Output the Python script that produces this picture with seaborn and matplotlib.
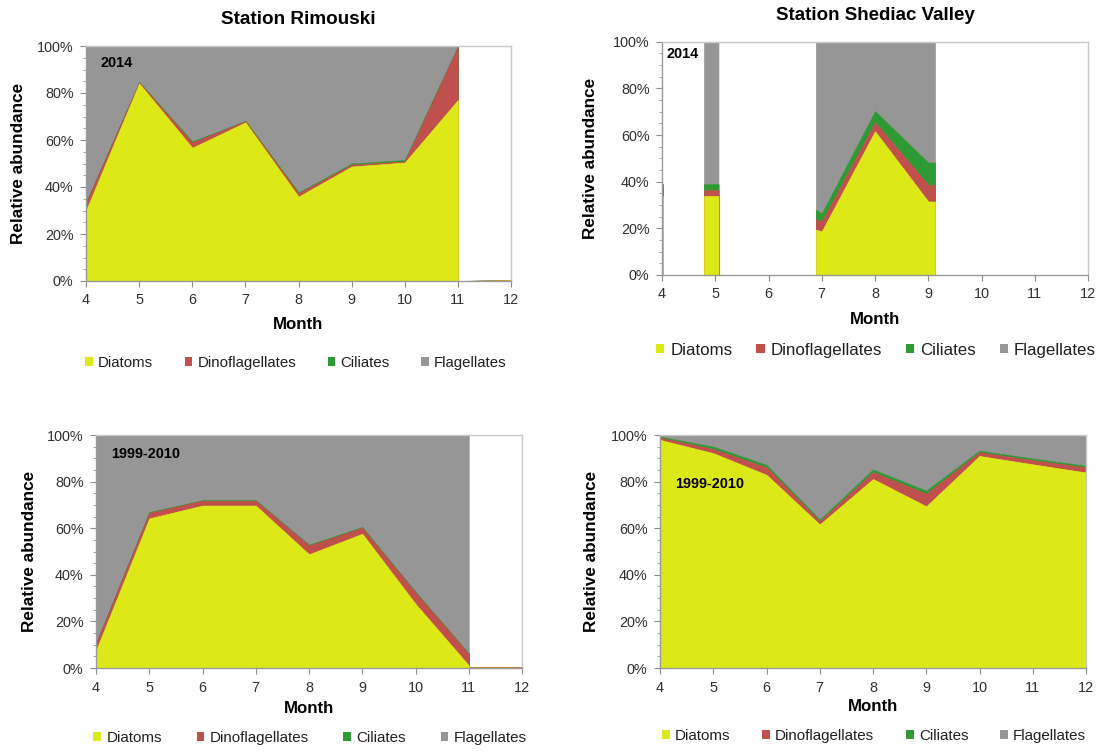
import numpy as np
import matplotlib
matplotlib.use("Agg")
import matplotlib.pyplot as plt
from matplotlib.patches import Patch
from matplotlib.ticker import FuncFormatter, MultipleLocator
import seaborn as sns

# ---- data: relative abundance (%) by month ----
groups = ["Diatoms", "Dinoflagellates", "Ciliates", "Flagellates"]
group_colors = ["#DDE817", "#C0504D", "#2E9A33", "#969696"]

# Station Rimouski, 2014
rim14_month = [4, 5, 6, 7, 8, 9, 10, 11, 11, 12]
rim14_diatoms = [30.0, 84.1, 56.7, 67.5, 35.9, 48.7, 50.4, 77.0, 0.0, 0.3]
rim14_dino = [3.3, 0.4, 2.3, 0.5, 1.4, 0.8, 0.5, 22.7, 0.0, 0.0]
rim14_cil = [0.1, 0.1, 0.4, 0.1, 0.4, 0.5, 0.6, 0.1, 0.0, 0.0]
rim14_flag = [66.6, 15.4, 40.6, 31.9, 62.3, 50.0, 48.5, 0.2, 0.0, 0.0]

# Station Shediac Valley, 2014 (sampling dates as decimal months)
she14_month = [4.0, 4.015, 4.015, 4.79, 4.79, 5.06, 5.06, 6.89, 6.89, 7.0, 8.0, 9.0, 9.125, 9.125, 11.0]
she14_diatoms = [33.8, 33.8, 0, 0, 33.8, 33.8, 0, 0, 19.4, 18.7, 61.6, 31.5, 31.5, 0, 0]
she14_dino = [2.5, 2.5, 0, 0, 2.5, 2.5, 0, 0, 4.6, 4.3, 3.9, 7.1, 7.1, 0, 0]
she14_cil = [2.6, 2.6, 0, 0, 2.6, 2.6, 0, 0, 3.9, 3.4, 4.7, 9.6, 9.6, 0, 0]
she14_flag = [0, 0, 0, 0, 61.1, 61.1, 0, 0, 72.1, 73.6, 29.8, 51.8, 51.8, 0, 0]

# Station Rimouski, 1999-2010 climatology
rimc_month = [4, 5, 6, 7, 8, 9, 10, 11, 11, 12]
rimc_diatoms = [7.5, 64.2, 69.7, 69.7, 48.8, 57.6, 27.5, 1.1, 0.2, 0.2]
rimc_dino = [3.0, 2.4, 2.1, 2.1, 3.8, 2.6, 4.9, 4.9, 0.1, 0.3]
rimc_cil = [0.2, 0.3, 0.2, 0.2, 0.3, 0.3, 0.3, 0.2, 0.0, 0.0]
rimc_flag = [89.3, 33.1, 28.0, 28.0, 47.1, 39.5, 67.3, 93.8, 0.0, 0.0]

# Station Shediac Valley, 1999-2010 climatology
shec_month = [4, 5, 6, 7, 8, 9, 10, 11, 12]
shec_diatoms = [97.9, 92.2, 82.9, 61.6, 81.1, 69.4, 91.0, 87.4, 83.9]
shec_dino = [1.0, 1.8, 3.2, 1.4, 3.0, 5.4, 1.6, 1.8, 2.2]
shec_cil = [0.4, 1.0, 1.1, 0.7, 1.1, 1.3, 0.7, 0.7, 0.7]
shec_flag = [0.7, 5.0, 12.8, 36.3, 14.8, 23.9, 6.7, 10.1, 13.2]

month_ticks = list(range(4, 13))

sns.set_theme(style="white")
plt.rcParams["font.family"] = ["Liberation Sans", "DejaVu Sans"]

W, H = 1101, 752
fig = plt.figure(figsize=(W / 100, H / 100), dpi=100)
fig.patch.set_facecolor("white")


def px_axes(left, right, top, bottom):
    return fig.add_axes([left / W, 1 - bottom / H, (right - left) / W, (bottom - top) / H])


def stacked_area(ax, month, layers):
    x = np.asarray(month, dtype=float)
    base = np.zeros(len(x))
    bounds = []
    for vals in layers:
        top = base + np.asarray(vals, dtype=float)
        bounds.append((base, top))
        base = top
    # draw upper layers first so the lower ones sit on top of shared edges
    for i in reversed(range(len(layers))):
        lo, hi = bounds[i]
        ax.fill_between(x, lo, hi, facecolor=group_colors[i], edgecolor=group_colors[i],
                        linewidth=0.5, zorder=2 + (len(layers) - i) * 0.1)


def style_axes(ax, tag, tag_pos, xlabel_y, ylabel_x):
    ax.set_xlim(4, 12)
    ax.set_ylim(0, 100)
    ax.set_facecolor("white")
    ax.set_xticks(month_ticks)
    ax.yaxis.set_major_locator(MultipleLocator(20))
    ax.yaxis.set_minor_locator(MultipleLocator(5))
    ax.yaxis.set_major_formatter(FuncFormatter(lambda v, p: f"{v:.0f}%"))
    ax.tick_params(axis="both", which="major", direction="out", length=4.5, width=0.8,
                   color="#8C8C8C", labelsize=10.4, labelcolor="#303030", pad=4.5)
    ax.tick_params(axis="y", which="minor", direction="out", length=2.5, width=0.7,
                   color="#A6A6A6", left=True)
    ax.tick_params(axis="x", bottom=True)
    ax.tick_params(axis="y", left=True)
    for side in ("top", "right"):
        ax.spines[side].set_color("#C8C8C8")
        ax.spines[side].set_linewidth(1.0)
    for side in ("left", "bottom"):
        ax.spines[side].set_color("#9A9A9A")
        ax.spines[side].set_linewidth(1.0)
    for s in ax.spines.values():
        s.set_zorder(5)
    ax.grid(False)
    ax.set_xlabel("Month", fontsize=12.2, fontweight="bold", color="black")
    ax.set_ylabel("Relative abundance", fontsize=12.3, fontweight="bold", color="black")
    ax.xaxis.set_label_coords(0.5, xlabel_y)
    ax.xaxis.label.set_va("center")
    ax.yaxis.set_label_coords(ylabel_x, 0.5)
    ax.yaxis.label.set_va("center")
    ax.text(tag_pos[0], tag_pos[1], tag, transform=ax.transAxes, fontsize=10.4,
            fontweight="bold", color="black", ha="left", va="center", zorder=6)


def add_legend(cx, cy, size, colspace):
    handles = [Patch(facecolor=c, edgecolor="none", label=g) for g, c in zip(groups, group_colors)]
    fig.legend(handles=handles, loc="center", bbox_to_anchor=(cx / W, 1 - cy / H),
               bbox_transform=fig.transFigure, ncol=4, frameon=False, fontsize=size,
               handlelength=0.5, handleheight=0.5, handletextpad=0.35,
               columnspacing=colspace, borderpad=0, labelcolor="#202020")


# Rimouski 2014
ax1 = px_axes(86, 511, 46, 281)
stacked_area(ax1, rim14_month, [rim14_diatoms, rim14_dino, rim14_cil, rim14_flag])
style_axes(ax1, "2014", (0.033, 0.928), -0.187, -0.16)
ax1.set_title("Station Rimouski", fontsize=13.6, fontweight="bold", pad=15.5, color="black")
add_legend(296, 363, 10.8, 2.1)

# Shediac Valley 2014
ax2 = px_axes(662, 1088, 41.7, 275)
stacked_area(ax2, she14_month, [she14_diatoms, she14_dino, she14_cil, she14_flag])
style_axes(ax2, "2014", (0.011, 0.947), -0.189, -0.167)
ax2.set_title("Station Shediac Valley", fontsize=13.5, fontweight="bold", pad=15.5, color="black")
add_legend(876, 350, 12.2, 1.4)

# Rimouski 1999-2010
ax3 = px_axes(96, 522, 435, 668)
stacked_area(ax3, rimc_month, [rimc_diatoms, rimc_dino, rimc_cil, rimc_flag])
style_axes(ax3, "1999-2010", (0.035, 0.918), -0.172, -0.155)
add_legend(310, 738, 10.9, 2.3)

# Shediac Valley 1999-2010
ax4 = px_axes(660, 1086, 435, 668)
stacked_area(ax4, shec_month, [shec_diatoms, shec_dino, shec_cil, shec_flag])
style_axes(ax4, "1999-2010", (0.035, 0.79), -0.167, -0.16)
add_legend(874, 736, 10.9, 2.1)

fig.savefig("out.png", dpi=100, facecolor="white")
